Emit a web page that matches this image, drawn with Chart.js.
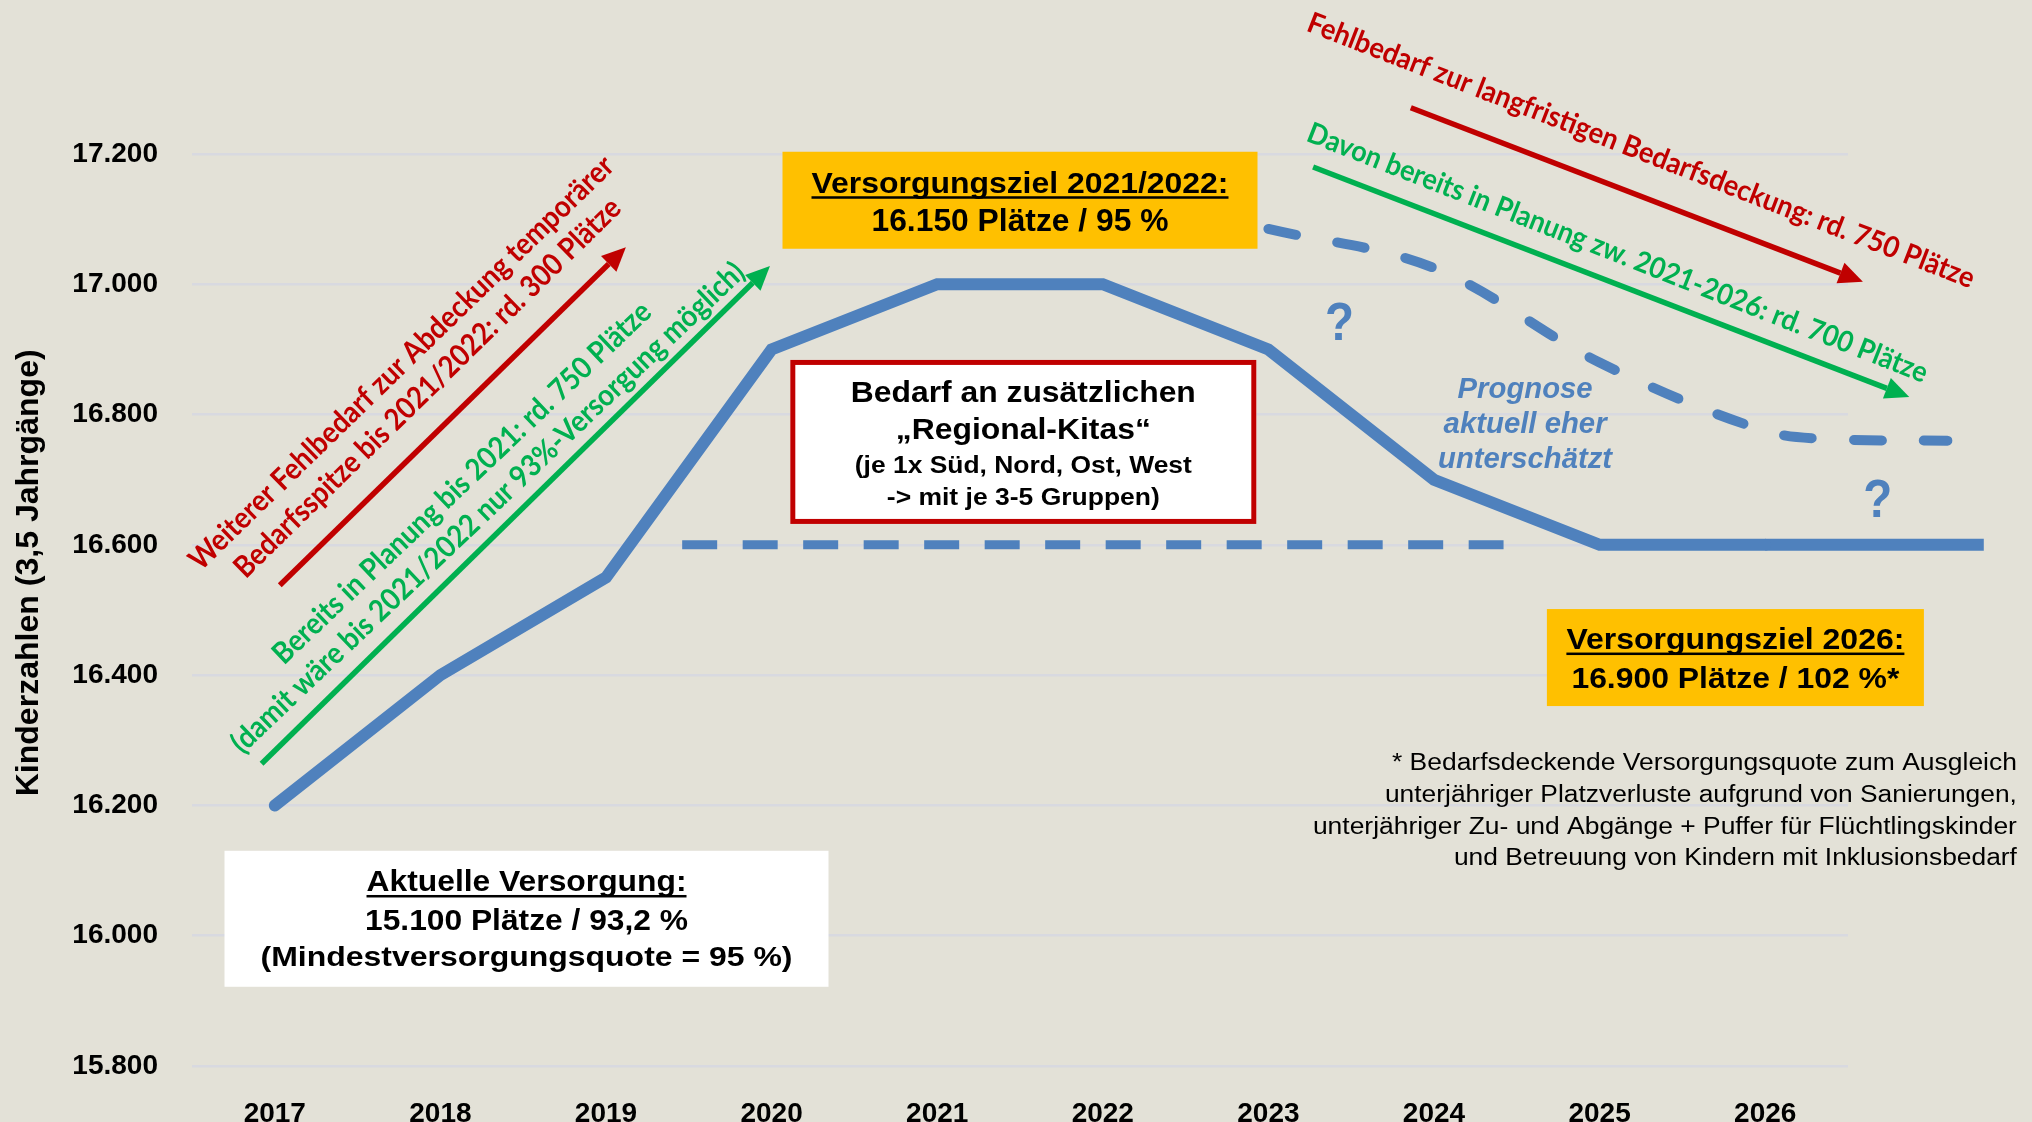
<!DOCTYPE html>
<html lang="de">
<head>
<meta charset="utf-8">
<title>Kinderzahlen (3,5 Jahrgänge)</title>
<script src="https://cdn.jsdelivr.net/npm/chart.js@4.4.1/dist/chart.umd.min.js"></script>
<style>
    html, body { margin: 0; padding: 0; background: #E3E1D7; }
    canvas { display: block; }
</style>
</head>
<body>
<canvas id="chart" width="2032" height="1122"></canvas>
<script>
// Chart data
const years = [2017, 2018, 2019, 2020, 2021, 2022, 2023, 2024, 2025, 2026];
const kinderzahlen = [16200, 16400, 16550, 16900, 17000, 17000, 16900, 16700, 16600, 16600];

// Solid line runs on a bit past 2026
const verlaengerungX = [2026, 2027.32];
const verlaengerungY = [16600, 16600];

// Upper dashed line (Prognose)
const prognoseX = [2023, 2024, 2025, 2026, 2026.45, 2027.1];
const prognoseY = [17085, 17025, 16880, 16775, 16762, 16760];

// Lower dashed line
const zielX = [2019.46, 2024.42];
const zielY = [16600, 16600];

const yTicks = [15800, 16000, 16200, 16400, 16600, 16800, 17000, 17200];

const BLUE = '#4F81BD';
const RED = '#C00000';
const GREEN = '#00B050';
const GOLD = '#FFC000';
const FONT = '"Liberation Sans", Arial, sans-serif';
const HAND = 'Lato, "Open Sans", sans-serif';

const toPoints = (xs, ys) => xs.map((x, i) => ({ x: x, y: ys[i] }));

// German number format: 17200 -> 17.200
const fmt = v => String(v).replace(/\B(?=(\d{3})+(?!\d))/g, '.');

// Text boxes (centre in data units, size in px)
const boxes = [
    { x: 2021.5, y: 17129, w: 475, h: 97, fill: GOLD, lines: [
        { text: 'Versorgungsziel 2021/2022:', dy: -7.5, w: 417, size: 30, underline: true },
        { text: '16.150 Plätze / 95 %', dy: 30.5, w: 297, size: 31 }
    ] },
    { x: 2021.52, y: 16758, w: 466, h: 164, fill: '#FFFFFF', stroke: RED, lines: [
        { text: 'Bedarf an zusätzlichen', dy: -40, w: 345, size: 30 },
        { text: '„Regional-Kitas“', dy: -3, w: 255, size: 30 },
        { text: '(je 1x Süd, Nord, Ost, West', dy: 31, w: 337, size: 24 },
        { text: '-> mit je 3-5 Gruppen)', dy: 63, w: 273, size: 24 }
    ] },
    { x: 2018.52, y: 16026, w: 604, h: 136, fill: '#FFFFFF', lines: [
        { text: 'Aktuelle Versorgung:', dy: -27.3, w: 320, size: 30, underline: true },
        { text: '15.100 Plätze / 93,2 %', dy: 11, w: 323, size: 30 },
        { text: '(Mindestversorgungsquote = 95 %)', dy: 47.7, w: 532, size: 28 }
    ] },
    { x: 2025.82, y: 16427, w: 377, h: 97, fill: GOLD, lines: [
        { text: 'Versorgungsziel 2026:', dy: -8.5, w: 338, size: 29, underline: true },
        { text: '16.900 Plätze / 102 %*', dy: 30.5, w: 328, size: 29 }
    ] }
];

// Slanted notes next to the arrows
const notes = [
    { text: 'Weiterer Fehlbedarf zur Abdeckung temporärer', x: 2017.765, y: 16879, angle: -44.2, w: 579, size: 30, color: RED },
    { text: 'Bedarfsspitze bis 2021/2022: rd. 300 Plätze', x: 2017.922, y: 16841, angle: -44.4, w: 528, size: 30, color: RED },
    { text: 'Bereits in Planung bis 2021: rd. 750 Plätze', x: 2018.13, y: 16695, angle: -43.6, w: 510, size: 30, color: GREEN },
    { text: '(damit wäre bis 2021/2022 nur 93%-Versorgung möglich)', x: 2018.287, y: 16657, angle: -43.6, w: 696, size: 30, color: GREEN },
    { text: 'Fehlbedarf zur langfristigen Bedarfsdeckung: rd. 750 Plätze', x: 2025.25, y: 17205, angle: 21.2, w: 713, size: 29, color: RED },
    { text: 'Davon bereits in Planung zw. 2021-2026: rd. 700 Plätze', x: 2025.108, y: 17048, angle: 21.4, w: 664, size: 29, color: GREEN }
];

const arrows = [
    { from: [2017.03, 16538], to: [2019.12, 17057], color: RED },
    { from: [2016.92, 16264], to: [2019.99, 17028], color: GREEN },
    { from: [2023.86, 17271], to: [2026.59, 17004], color: RED },
    { from: [2023.27, 17180], to: [2026.87, 16827], color: GREEN }
];

const footnote = [
    '* Bedarfsdeckende Versorgungsquote zum Ausgleich',
    'unterjähriger Platzverluste aufgrund von Sanierungen,',
    'unterjähriger Zu- und Abgänge + Puffer für Flüchtlingskinder',
    'und Betreuung von Kindern mit Inklusionsbedarf'
];
const footnoteWidths = [625, 632, 704, 563];

const prognoseText = ['Prognose', 'aktuell eher', 'unterschätzt'];
const prognoseWidths = [135, 163, 174];

// Draw text squeezed/stretched to a given width
function fitText(ctx, text, x, y, width, font, color, align = 'center', baseline = 'alphabetic') {
    ctx.save();
    ctx.font = font;
    ctx.fillStyle = color;
    ctx.textAlign = align;
    ctx.textBaseline = baseline;
    const natural = ctx.measureText(text).width;
    ctx.translate(x, y);
    ctx.scale(width / natural, 1);
    ctx.fillText(text, 0, 0);
    ctx.restore();
}

function drawArrow(ctx, x1, y1, x2, y2, color) {
    const ang = Math.atan2(y2 - y1, x2 - x1);
    const head = 24, half = 11;
    const bx = x2 - head * Math.cos(ang);
    const by = y2 - head * Math.sin(ang);
    ctx.save();
    ctx.strokeStyle = color;
    ctx.fillStyle = color;
    ctx.lineWidth = 5.5;
    ctx.beginPath();
    ctx.moveTo(x1, y1);
    ctx.lineTo(bx, by);
    ctx.stroke();
    ctx.beginPath();
    ctx.moveTo(x2, y2);
    ctx.lineTo(bx + half * Math.sin(ang), by - half * Math.cos(ang));
    ctx.lineTo(bx - half * Math.sin(ang), by + half * Math.cos(ang));
    ctx.closePath();
    ctx.fill();
    ctx.restore();
}

// Boxes, notes, arrows and axis title
const annotations = {
    id: 'annotations',
    afterDraw(chart) {
        const ctx = chart.ctx;
        const px = v => chart.scales.x.getPixelForValue(v);
        const py = v => chart.scales.y.getPixelForValue(v);

        // Axis title
        ctx.save();
        ctx.translate(29, py(16557));
        ctx.rotate(-Math.PI / 2);
        fitText(ctx, 'Kinderzahlen (3,5 Jahrgänge)', 0, 0, 447, 'bold 32px ' + FONT, '#000', 'center', 'middle');
        ctx.restore();

        arrows.forEach(a => {
            drawArrow(ctx, px(a.from[0]), py(a.from[1]), px(a.to[0]), py(a.to[1]), a.color);
        });

        notes.forEach(n => {
            ctx.save();
            ctx.translate(px(n.x), py(n.y));
            ctx.rotate(n.angle * Math.PI / 180);
            fitText(ctx, n.text, 0, 0, n.w, `bold ${n.size}px ${HAND}`, n.color, 'center', 'middle');
            ctx.restore();
        });

        boxes.forEach(b => {
            const cx = px(b.x), cy = py(b.y);
            const left = cx - b.w / 2, top = cy - b.h / 2;
            ctx.fillStyle = b.fill;
            ctx.fillRect(left, top, b.w, b.h);
            if (b.stroke) {
                ctx.strokeStyle = b.stroke;
                ctx.lineWidth = 5;
                ctx.strokeRect(left + 2.5, top + 2.5, b.w - 5, b.h - 5);
            }
            b.lines.forEach(l => {
                fitText(ctx, l.text, cx, cy + l.dy, l.w, `bold ${l.size}px ${FONT}`, '#000');
                if (l.underline) {
                    ctx.fillStyle = '#000';
                    ctx.fillRect(cx - l.w / 2, cy + l.dy + 3.5, l.w, 2.5);
                }
            });
        });

        // Footnote, right aligned
        const fx = px(2027.52), fy = py(16254);
        footnote.forEach((t, i) => {
            fitText(ctx, t, fx, fy + i * 31.7, footnoteWidths[i], '23px ' + FONT, '#000', 'right');
        });

        // Prognose note
        const gx = px(2024.55), gy = py(16825);
        prognoseText.forEach((t, i) => {
            fitText(ctx, t, gx, gy + i * 35, prognoseWidths[i], 'italic bold 29px ' + FONT, BLUE);
        });

        // Question marks
        fitText(ctx, '?', px(2023.43), py(16914), 29, 'bold 54px ' + FONT, BLUE);
        fitText(ctx, '?', px(2026.68), py(16643), 29, 'bold 54px ' + FONT, BLUE);
    }
};

new Chart(document.getElementById('chart'), {
    type: 'line',
    data: {
        datasets: [
            {
                label: 'Kinderzahlen',
                data: toPoints(years, kinderzahlen),
                borderColor: BLUE,
                borderWidth: 12,
                borderCapStyle: 'round',
                pointRadius: 0,
                tension: 0
            },
            {
                label: 'Verlängerung',
                data: toPoints(verlaengerungX, verlaengerungY),
                borderColor: BLUE,
                borderWidth: 12,
                pointRadius: 0,
                clip: false
            },
            {
                label: 'Prognose',
                data: toPoints(prognoseX, prognoseY),
                borderColor: BLUE,
                borderWidth: 10,
                borderDash: [28, 42],
                borderCapStyle: 'round',
                pointRadius: 0,
                tension: 0.35,
                clip: false
            },
            {
                label: 'Versorgungsziel',
                data: toPoints(zielX, zielY),
                borderColor: BLUE,
                borderWidth: 9,
                borderDash: [35, 25.5],
                pointRadius: 0,
                clip: false
            }
        ]
    },
    options: {
        responsive: false,
        animation: false,
        devicePixelRatio: 1,
        layout: { padding: { top: 154, right: 184, bottom: 0, left: 0 } },
        plugins: {
            legend: { display: false },
            tooltip: { enabled: false }
        },
        scales: {
            x: {
                type: 'linear',
                min: 2016.5,
                max: 2026.5,
                afterBuildTicks: scale => { scale.ticks = years.map(v => ({ value: v })); },
                afterFit: scale => { scale.height = 56; },
                grid: { display: false },
                border: { display: false },
                ticks: {
                    callback: v => String(v),
                    font: { family: FONT, size: 28, weight: 'bold' },
                    color: '#000',
                    padding: 23,
                    maxRotation: 0,
                    autoSkip: false
                }
            },
            y: {
                min: yTicks[0],
                max: yTicks[yTicks.length - 1],
                afterBuildTicks: scale => { scale.ticks = yTicks.map(v => ({ value: v })); },
                afterFit: scale => { scale.width = 192; },
                grid: { color: '#D8D9E0', lineWidth: 2.5, drawTicks: false },
                border: { display: false },
                ticks: {
                    callback: fmt,
                    font: { family: FONT, size: 28, weight: 'bold' },
                    color: '#000',
                    padding: 34
                }
            }
        }
    },
    plugins: [annotations]
});
</script>
</body>
</html>
